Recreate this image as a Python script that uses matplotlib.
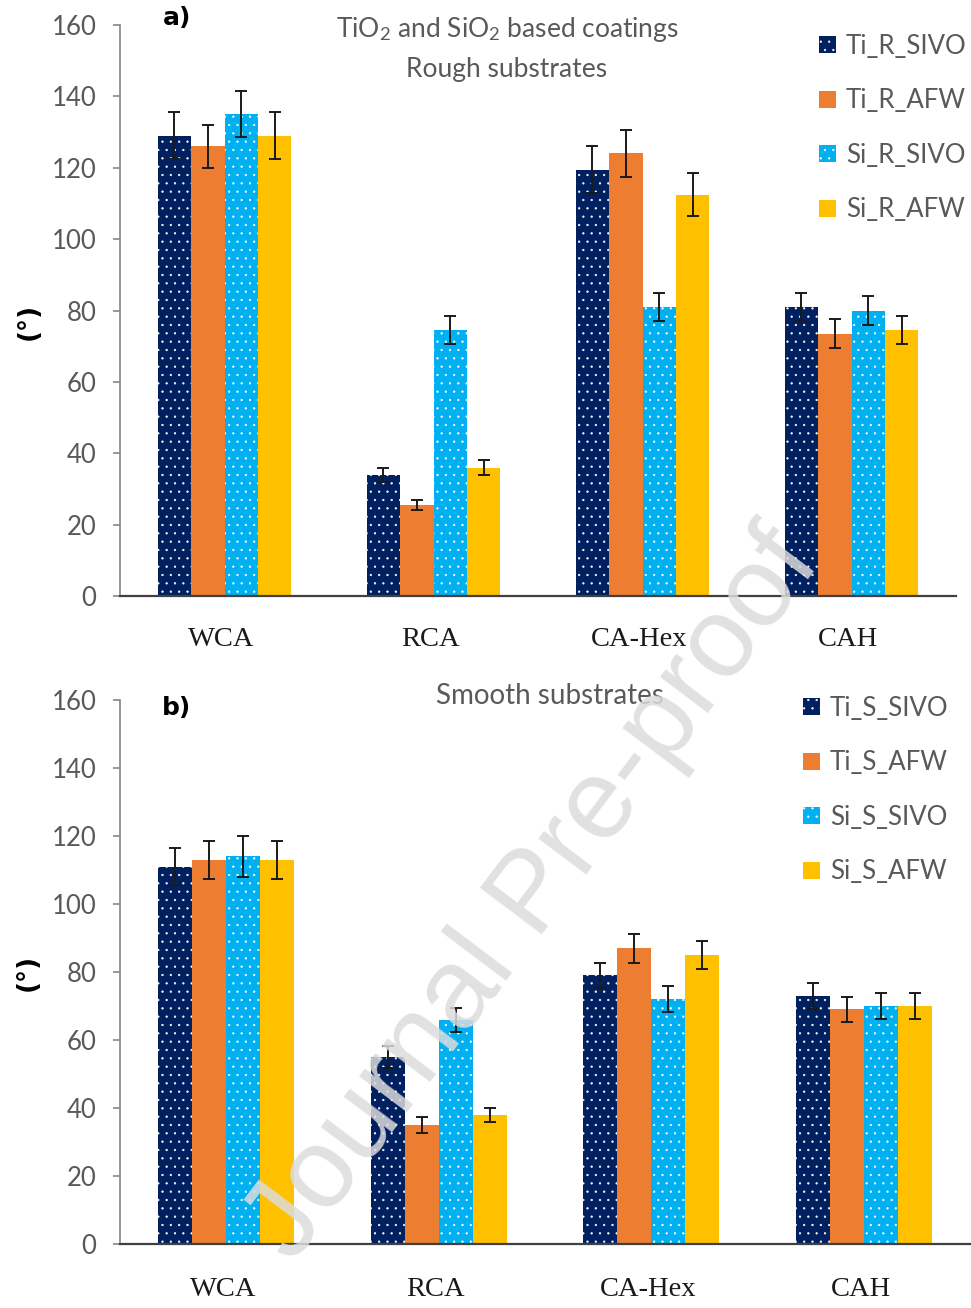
import numpy as np
import matplotlib
matplotlib.use("Agg")
from matplotlib import pyplot as plt

plt.rcParams['font.family'] = ['Lato', 'DejaVu Sans']
plt.rcParams['mathtext.fontset'] = 'custom'
plt.rcParams['mathtext.rm'] = 'Lato'
plt.rcParams['mathtext.it'] = 'Lato:italic'
plt.rcParams['hatch.linewidth'] = 0.4

# data
categories = ['WCA', 'RCA', 'CA-Hex', 'CAH']
rough_labels = ['Ti_R_SIVO', 'Ti_R_AFW', 'Si_R_SIVO', 'Si_R_AFW']
smooth_labels = ['Ti_S_SIVO', 'Ti_S_AFW', 'Si_S_SIVO', 'Si_S_AFW']

rough_vals = [
    [129, 34, 119.5, 81],     # Ti_R_SIVO
    [126, 25.5, 124, 73.5],   # Ti_R_AFW
    [135, 74.5, 81, 80],      # Si_R_SIVO
    [129, 36, 112.5, 74.5],   # Si_R_AFW
]
rough_err = [
    [6.5, 2, 6.5, 4],
    [6, 1.5, 6.5, 4],
    [6.5, 4, 4, 4],
    [6.5, 2, 6, 4],
]
smooth_vals = [
    [111, 55, 79, 73],
    [113, 35, 87, 69],
    [114, 66, 72, 70],
    [113, 38, 85, 70],
]
smooth_err = [
    [5.5, 3.2, 3.7, 3.8],
    [5.5, 2.3, 4.3, 3.7],
    [6, 3.5, 3.8, 3.8],
    [5.6, 2, 4.2, 3.8],
]

colors = ['#002060', '#ED7D31', '#00B0F0', '#FFC000']
hatches = ['..', None, '..', None]
grey = '#595959'

W, H = 971, 1308
fig = plt.figure(figsize=(W / 100, H / 100), dpi=100)


def px_axes(x0, x1, ytop, ybot):
    return fig.add_axes([x0 / W, 1 - ybot / H, (x1 - x0) / W, (ybot - ytop) / H])


def draw_panel(ax, vals, errs, labels, leg_xy, ylab_xy, xpad):
    x = np.arange(len(categories))
    bw = 0.16
    for i in range(4):
        off = (i - 1.5) * bw
        ec = 'white' if hatches[i] else colors[i]
        ax.bar(x + off, vals[i], bw, color=colors[i], edgecolor=ec,
               linewidth=0, hatch=hatches[i], label=labels[i], zorder=2)
        ax.errorbar(x + off, vals[i], yerr=errs[i], fmt='none', ecolor='#1a1a1a',
                    elinewidth=1.4, capsize=4.5, capthick=1.4, zorder=3)
    ax.set_xlim(-0.5, 3.5)
    ax.set_ylim(0, 160)
    ax.set_yticks(np.arange(0, 161, 20))
    ax.set_xticks(x - 0.015)
    ax.set_xticklabels(categories, family='Liberation Serif', fontsize=20.5, color='#1a1a1a')
    ax.tick_params(axis='x', length=0, pad=xpad)
    ax.tick_params(axis='y', length=5, width=1.2, colors='#868686', labelcolor=grey,
                   labelsize=18.5, pad=12)
    for s in ['top', 'right']:
        ax.spines[s].set_visible(False)
    ax.spines['left'].set_color('#868686')
    ax.spines['left'].set_linewidth(1.2)
    ax.spines['bottom'].set_color('#404040')
    ax.spines['bottom'].set_linewidth(1.6)
    ax.set_ylabel('(°)', fontsize=19, fontweight='bold', family='DejaVu Sans')
    ax.yaxis.set_label_coords(*ylab_xy)
    leg = ax.legend(loc='upper left', bbox_to_anchor=leg_xy, frameon=False,
                    fontsize=18.5, labelspacing=1.15, handlelength=0.65,
                    handleheight=0.65, handletextpad=0.4, borderpad=0,
                    borderaxespad=0)
    for t in leg.get_texts():
        t.set_color(grey)


ax1 = px_axes(120, 956, 25, 596)
draw_panel(ax1, rough_vals, rough_err, rough_labels, (0.836, 0.985), (-0.094, 0.48), 22)

ax2 = px_axes(120, 970, 700, 1244)
draw_panel(ax2, smooth_vals, smooth_err, smooth_labels, (0.8035, 1.008), (-0.093, 0.5), 24)

# titles and panel letters
fig.text(507 / W, 1 - 30 / H, 'TiO$_2$ and SiO$_2$ based coatings', ha='center', va='center',
         fontsize=19, color=grey)
fig.text(507 / W, 1 - 69 / H, 'Rough substrates', ha='center', va='center',
         fontsize=19, color=grey)
fig.text(550 / W, 1 - 696 / H, 'Smooth substrates', ha='center', va='center',
         fontsize=20, color=grey)
fig.text(177 / W, 1 - 18 / H, 'a)', ha='center', va='center', fontsize=18,
         fontweight='bold', family='DejaVu Sans')
fig.text(177 / W, 1 - 708 / H, 'b)', ha='center', va='center', fontsize=18,
         fontweight='bold', family='DejaVu Sans')

# watermark
fig.text(0.55, 0.315, 'Journal Pre-proof', ha='center', va='center', rotation=53,
         fontsize=82, color='#dcdcdc', alpha=0.85, family='Liberation Sans', zorder=10)

fig.savefig('out.png', dpi=100)
